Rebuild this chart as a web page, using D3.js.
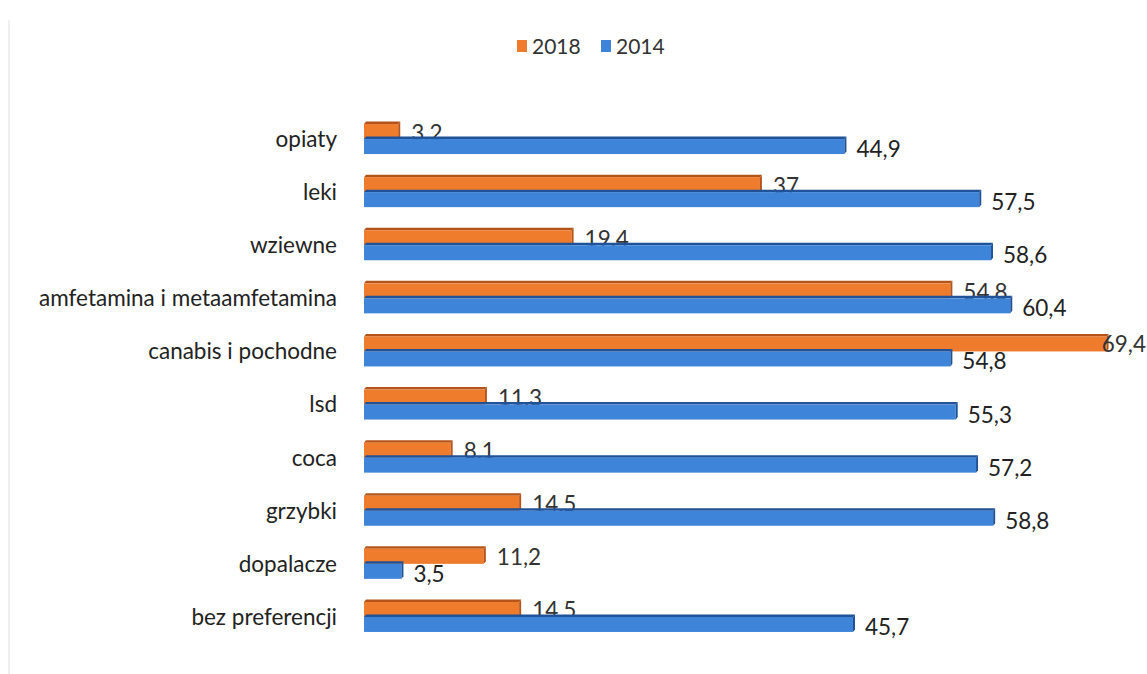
<!DOCTYPE html>
<html>
<head>
<meta charset="utf-8">
<script src="https://cdn.jsdelivr.net/npm/d3@7/dist/d3.min.js"></script>
<style>
  html, body { margin: 0; padding: 0; background: #fff; }
  svg { display: block; }
  text { font-family: Lato, "Open Sans", sans-serif; }
</style>
</head>
<body>
<svg id="chart" width="1147" height="674"></svg>
<script>
// Substance categories, top to bottom
const categories = [
  "opiaty", "leki", "wziewne", "amfetamina i metaamfetamina",
  "canabis i pochodne", "lsd", "coca", "grzybki", "dopalacze", "bez preferencji"
];
// Percentages per survey year
const values2018 = [3.2, 37, 19.4, 54.8, 69.4, 11.3, 8.1, 14.5, 11.2, 14.5];
const values2014 = [44.9, 57.5, 58.6, 60.4, 54.8, 55.3, 57.2, 58.8, 3.5, 45.7];
const seriesNames = ["2018", "2014"];
const seriesColors = ["#EF7B2D", "#3E84D9"];
const edgeColors = ["#B4541B", "#1F5298"];

const fmt = v => String(v).replace(".", ",");

const svg = d3.select("#chart");
const W = 1147, H = 674;

// faint page border on the left
svg.append("line").attr("x1", 9).attr("x2", 9).attr("y1", 20).attr("y2", H)
  .attr("stroke", "#f0f0f0").attr("stroke-width", 2);

const x = d3.scaleLinear().domain([0, 70]).range([364, 364 + 749]);
const y = d3.scaleBand().domain(categories).range([112.5, 643.5]).paddingInner(0.44).paddingOuter(0.22);

const center = c => y(c) + y.bandwidth() / 2;
const barH = 15, depth = 2.5;

// category axis labels
const yAxis = d3.axisLeft(y).tickSize(0).tickPadding(0);
const gy = svg.append("g").attr("transform", "translate(337,0)").call(yAxis);
gy.select(".domain").remove();
gy.selectAll(".tick text")
  .attr("y", 0).attr("dy", "0.35em")
  .style("font-family", "Lato, 'Open Sans', sans-serif")
  .style("font-size", "22.5px").attr("fill", "#222");

// draws one 3D-ish bar: front face, top face and right side face
function bar(g, x0, x1, yTop, i) {
  const w = Math.max(0, x1 - x0);
  g.append("path")
    .attr("d", `M${x0},${yTop} L${x0 + 2},${yTop - depth} L${x0 + w + 2},${yTop - depth} L${x0 + w},${yTop} Z`)
    .attr("fill", edgeColors[i]);
  g.append("rect").attr("x", x0).attr("y", yTop).attr("width", w).attr("height", barH)
    .attr("fill", seriesColors[i]);
  g.append("path")
    .attr("d", `M${x0 + w},${yTop} L${x0 + w + 2},${yTop - depth} L${x0 + w + 2},${yTop + barH - depth} L${x0 + w},${yTop + barH} Z`)
    .attr("fill", edgeColors[i]);
}

const gBars = svg.append("g");
categories.forEach((c, k) => {
  const cy = center(c);
  // 2018 bar (upper)
  bar(gBars, x(0), x(values2018[k]), cy - barH, 0);
  // 2018 value label; the 2014 bar is drawn over it
  const t = gBars.append("text")
    .attr("x", x(values2018[k]) + 13).attr("y", cy + 1.5)
    .attr("font-size", "22.5px").attr("fill", "#333")
    .text(fmt(values2018[k]));
  // keep the label inside the drawing: hug the bar end, then the edge
  const tw = t.node().getComputedTextLength();
  if (x(values2018[k]) + 13 + tw > W - 1) {
    t.attr("x", Math.min(x(values2018[k]) + 2, W - 1 - tw)).attr("y", cy + 0.5);
  }
  // 2014 bar (lower)
  bar(gBars, x(0), x(values2014[k]), cy, 1);
  gBars.append("text")
    .attr("x", x(values2014[k]) + 12).attr("y", cy + 18)
    .attr("font-size", "22.5px").attr("fill", "#222")
    .text(fmt(values2014[k]));
});

// legend
const legend = svg.append("g");
const lx = [517, 601];
seriesNames.forEach((s, i) => {
  legend.append("rect").attr("x", lx[i]).attr("y", 40).attr("width", 10).attr("height", 12)
    .attr("fill", seriesColors[i]);
  legend.append("text").attr("x", lx[i] + 15).attr("y", 54)
    .attr("font-size", "21px").attr("fill", "#333").text(s);
});
</script>
</body>
</html>
